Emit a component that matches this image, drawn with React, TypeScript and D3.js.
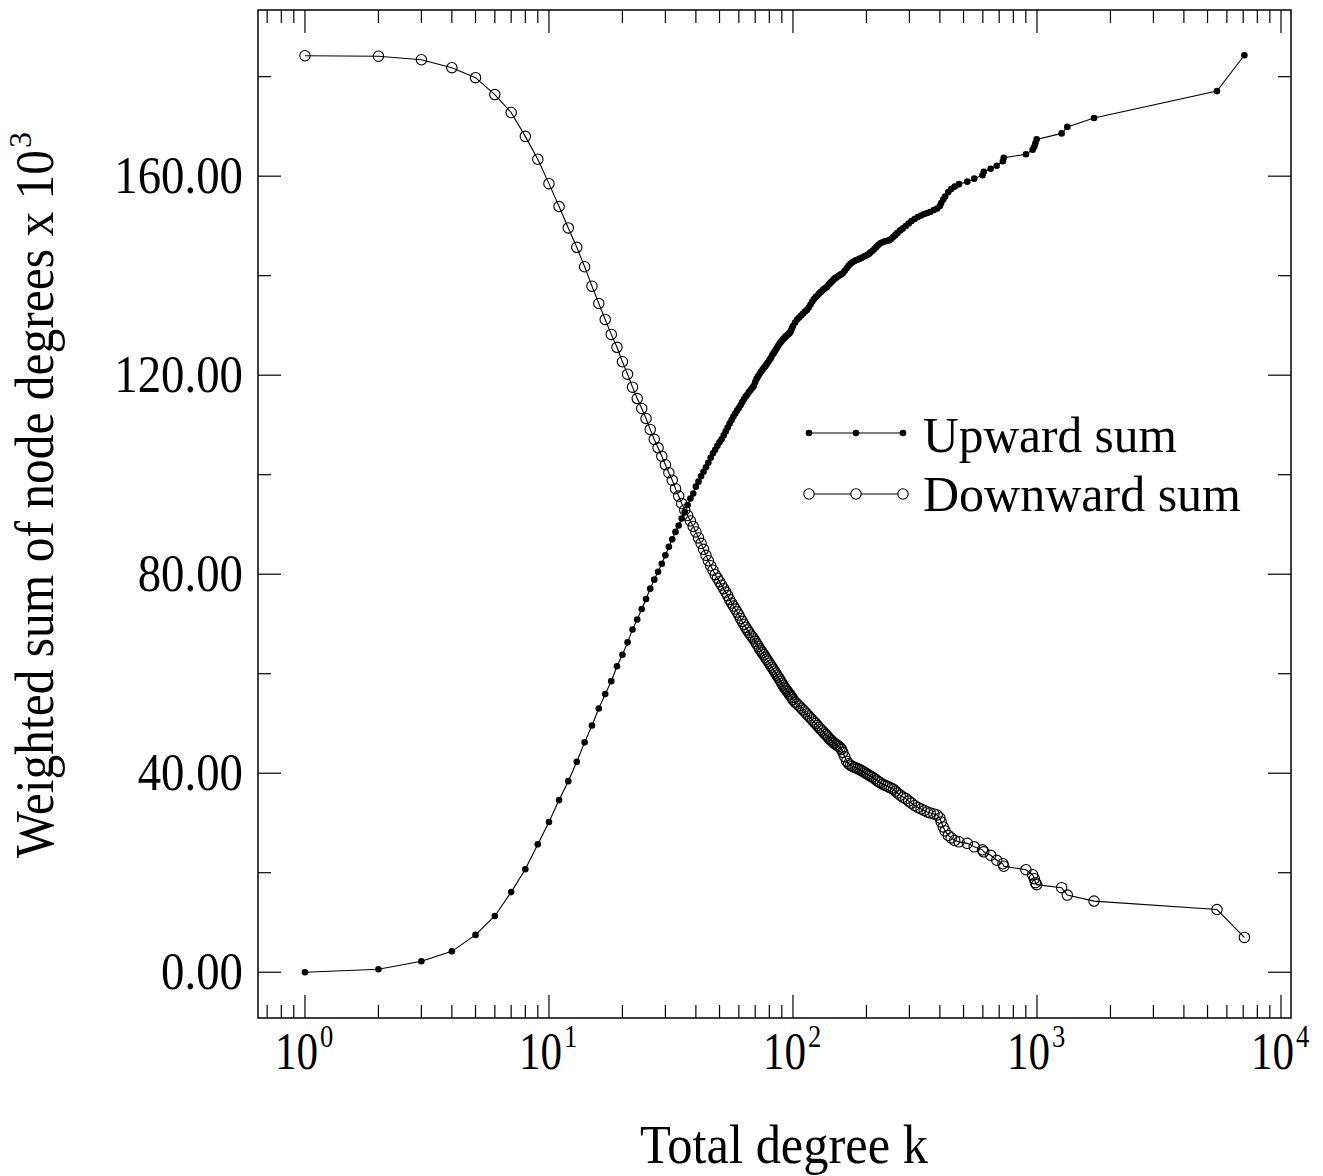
import React from "react";
import * as d3 from "d3";

const degrees = [
  1, 2, 3, 4, 5, 6, 7, 8, 9, 10,
  11, 12, 13, 14, 15, 16, 17, 18, 19, 20,
  21, 22, 23, 24, 25, 26, 27, 28, 29, 30,
  31, 32, 33, 34, 35, 36, 37, 38, 39, 40,
  41, 42, 43, 44, 45, 46, 47, 48, 49, 50,
  51, 52, 53, 54, 55, 56, 57, 58, 59, 60,
  61, 62, 63, 64, 65, 66, 67, 68, 69, 70,
  71, 72, 73, 74, 75, 76, 77, 78, 79, 80,
  81, 82, 83, 84, 85, 86, 87, 88, 89, 90,
  91, 92, 93, 94, 95, 96, 97, 98, 99, 100,
  102, 104, 106, 108, 110, 112, 114, 116, 118, 120,
  122, 124, 126, 128, 130, 132, 134, 136, 138, 140,
  142, 144, 146, 148, 150, 152, 154, 156, 158, 160,
  163, 166, 169, 172, 175, 178, 181, 184, 187, 190,
  193, 196, 199, 202, 205, 208, 212, 216, 220, 224,
  228, 233, 238, 243, 248, 253, 258, 263, 268, 275,
  282, 290, 298, 306, 315, 325, 335, 345, 355, 365,
  378, 390, 400, 405, 413, 420, 433, 445, 460, 479,
  518, 553, 598, 605, 646, 684, 725, 731, 901, 960,
  975, 985, 997, 1262, 1331, 1713, 5466, 7078,
];

const upwardSum = [
  0.0, 0.6, 2.2, 4.2, 7.5, 11.3, 16.1, 20.7, 25.7, 30.2,
  34.6, 38.4, 42.3, 46.2, 49.6, 53.0, 55.9, 58.5, 61.5, 63.8,
  66.3, 68.9, 70.9, 73.0, 75.0, 77.1, 78.9, 80.5, 82.1, 83.8,
  85.5, 87.0, 88.5, 89.8, 91.2, 92.5, 93.9, 95.2, 96.2, 97.6,
  98.6, 99.7, 100.6, 101.5, 102.4, 103.4, 104.3, 105.0, 105.8, 106.5,
  107.1, 107.9, 108.7, 109.5, 110.3, 111.0, 111.7, 112.3, 112.9, 113.4,
  114.0, 114.6, 115.2, 115.7, 116.1, 116.6, 117.0, 117.4, 117.8, 118.6,
  119.3, 119.8, 120.3, 120.7, 121.1, 121.5, 121.8, 122.2, 122.6, 123.0,
  123.4, 123.9, 124.3, 124.7, 125.1, 125.5, 125.9, 126.3, 126.6, 126.9,
  127.2, 127.4, 127.7, 127.9, 128.1, 128.3, 128.5, 128.9, 129.4, 129.9,
  130.6, 131.2, 131.6, 132.0, 132.4, 132.8, 133.1, 133.6, 134.2, 134.8,
  135.3, 135.7, 136.0, 136.4, 136.7, 137.0, 137.3, 137.5, 137.8, 138.2,
  138.5, 138.8, 139.1, 139.4, 139.6, 139.8, 140.0, 140.2, 140.3, 140.5,
  141.0, 141.5, 142.0, 142.4, 142.7, 142.9, 143.1, 143.2, 143.4, 143.5,
  143.7, 143.9, 144.0, 144.2, 144.4, 144.7, 145.0, 145.4, 145.8, 146.2,
  146.5, 146.7, 146.9, 147.0, 147.1, 147.4, 147.8, 148.2, 148.6, 149.1,
  149.5, 150.0, 150.5, 151.0, 151.4, 151.8, 152.1, 152.4, 152.6, 152.8,
  153.2, 153.5, 154.0, 154.6, 155.3, 155.9, 156.8, 157.4, 157.9, 158.4,
  158.9, 159.5, 160.2, 160.9, 161.5, 162.1, 163.0, 163.7, 164.4, 165.3,
  165.9, 166.6, 167.4, 168.6, 169.9, 171.7, 177.1, 184.3,
];

const downwardSum = [
  184.2, 184.1, 183.4, 181.8, 179.8, 176.4, 172.8, 168.0, 163.4, 158.5,
  153.9, 149.6, 145.7, 141.8, 137.9, 134.4, 131.2, 128.2, 125.6, 122.7,
  120.2, 117.6, 115.3, 113.3, 111.3, 109.1, 107.1, 105.4, 103.7, 102.0,
  100.4, 98.9, 97.2, 95.7, 94.2, 92.9, 91.8, 90.7, 89.6, 88.5,
  87.3, 86.2, 85.0, 83.8, 82.7, 81.7, 80.8, 79.9, 79.2, 78.5,
  77.8, 77.1, 76.4, 75.7, 74.9, 74.2, 73.6, 73.0, 72.4, 71.8,
  71.1, 70.5, 69.9, 69.3, 68.8, 68.3, 67.8, 67.4, 67.0, 66.5,
  66.0, 65.5, 65.0, 64.6, 64.2, 63.8, 63.3, 62.9, 62.5, 62.1,
  61.7, 61.3, 60.9, 60.5, 60.1, 59.7, 59.3, 58.9, 58.5, 58.1,
  57.7, 57.3, 57.0, 56.7, 56.4, 56.1, 55.8, 55.5, 55.2, 54.8,
  54.3, 53.9, 53.5, 53.1, 52.7, 52.3, 51.9, 51.5, 51.1, 50.7,
  50.3, 50.0, 49.6, 49.2, 48.8, 48.5, 48.1, 47.8, 47.5, 47.1,
  46.8, 46.5, 46.2, 46.0, 45.8, 45.6, 45.4, 45.1, 44.8, 44.2,
  43.3, 42.4, 41.9, 41.6, 41.4, 41.2, 41.1, 40.9, 40.8, 40.6,
  40.4, 40.2, 40.0, 39.8, 39.6, 39.4, 39.2, 38.9, 38.6, 38.3,
  38.1, 37.8, 37.6, 37.4, 37.2, 37.0, 36.8, 36.4, 36.0, 35.6,
  35.2, 34.9, 34.4, 34.0, 33.5, 33.1, 32.8, 32.5, 32.2, 32.0,
  31.8, 31.6, 31.0, 30.2, 29.2, 28.4, 27.5, 27.0, 26.5, 26.2,
  25.9, 25.2, 24.6, 24.2, 23.5, 22.5, 21.8, 21.3, 20.6, 19.6,
  18.8, 18.0, 17.6, 17.0, 15.5, 14.3, 12.6, 7.0,
];

const yMajorTicks = [0, 40, 80, 120, 160];
const yMinorTicks = [20, 60, 100, 140, 180];
const xMajorExponents = [0, 1, 2, 3, 4];
const seriesNames = ["Upward sum", "Downward sum"];

const FONT = "'Liberation Serif', 'Times New Roman', Times, serif";
const W = 1323;
const H = 1176;
const L = 258, R = 1291, T = 10, B = 1018;

export default function App() {
  const x = d3.scaleLog().domain([0.642, 10990]).range([L, R]);
  const y = d3.scaleLinear().domain([-9.2, 193.4]).range([B, T]);

  const up = degrees.map((k, i) => [k, upwardSum[i]] as [number, number]);
  const down = degrees.map((k, i) => [k, downwardSum[i]] as [number, number]);
  const line = d3
    .line<[number, number]>()
    .x((d) => x(d[0]))
    .y((d) => y(d[1]));

  const xMinor: number[] = [];
  [0.1, 1, 10, 100, 1000].forEach((dec) => {
    for (let m = 2; m <= 9; m++) {
      const v = dec * m;
      if (v >= 0.642 && v <= 10990) xMinor.push(v);
    }
  });

  const majLen = 23;
  const minLen = 13;
  const fmt = d3.format(".2f");

  return (
    <svg
      width={W}
      height={H}
      style={{ position: "absolute", left: 0, top: 0, background: "#fff" }}
      fontFamily={FONT}
    >
      <rect x={0} y={0} width={W} height={H} fill="#fff" />
      {/* ticks */}
      <g stroke="#000" strokeWidth={1.2}>
        {xMajorExponents.map((e) => {
          const px = x(Math.pow(10, e));
          return (
            <g key={"xm" + e}>
              <line x1={px} x2={px} y1={B} y2={B - majLen} />
              <line x1={px} x2={px} y1={T} y2={T + majLen} />
            </g>
          );
        })}
        {xMinor.map((v, i) => {
          const px = x(v);
          return (
            <g key={"xn" + i}>
              <line x1={px} x2={px} y1={B} y2={B - minLen} />
              <line x1={px} x2={px} y1={T} y2={T + minLen} />
            </g>
          );
        })}
        {yMajorTicks.map((v) => (
          <g key={"ym" + v}>
            <line x1={L} x2={L + majLen} y1={y(v)} y2={y(v)} />
            <line x1={R} x2={R - majLen} y1={y(v)} y2={y(v)} />
          </g>
        ))}
        {yMinorTicks.map((v) => (
          <g key={"yn" + v}>
            <line x1={L} x2={L + minLen} y1={y(v)} y2={y(v)} />
            <line x1={R} x2={R - minLen} y1={y(v)} y2={y(v)} />
          </g>
        ))}
      </g>
      <rect x={L} y={T} width={R - L} height={B - T} fill="none" stroke="#000" strokeWidth={1.5} />

      {/* y tick labels */}
      {yMajorTicks.map((v) => {
        const s = fmt(v);
        const nd = s.replace(".", "").length;
        const len = 52 * 0.9 * (0.5 * nd + 0.25);
        return (
          <text
            key={"yl" + v}
            x={243}
            y={y(v) + 17}
            fontSize={52}
            textAnchor="end"
            textLength={len}
            lengthAdjust="spacingAndGlyphs"
          >
            {s}
          </text>
        );
      })}

      {/* x tick labels: 10 with superscript exponent */}
      {xMajorExponents.map((e) => {
        const px = x(Math.pow(10, e));
        return (
          <g key={"xl" + e}>
            <g transform={`translate(${px - 30},1069) scale(0.83,1)`}>
              <text x={0} y={0} fontSize={52}>10</text>
            </g>
            <g transform={`translate(${px + 15},1047) scale(0.83,1)`}>
              <text x={0} y={0} fontSize={32}>{String(e)}</text>
            </g>
          </g>
        );
      })}

      {/* axis titles */}
      <text x={784} y={1163} fontSize={54} textAnchor="middle" textLength={288} lengthAdjust="spacingAndGlyphs">
        Total degree k
      </text>
      <g transform="translate(53,858) rotate(-90)">
        <text x={0} y={0} fontSize={54}>
          <tspan textLength={708} lengthAdjust="spacingAndGlyphs">Weighted sum of node degrees x 10</tspan>
          <tspan dx={2} dy={-22} fontSize={32}>3</tspan>
        </text>
      </g>

      {/* downward series */}
      <path d={line(down) || ""} fill="none" stroke="#000" strokeWidth={1.1} />
      {down.map((d, i) => (
        <circle key={"d" + i} cx={x(d[0])} cy={y(d[1])} r={5.2} fill="none" stroke="#000" strokeWidth={1.1} />
      ))}
      {/* upward series */}
      <path d={line(up) || ""} fill="none" stroke="#000" strokeWidth={1.1} />
      {up.map((d, i) => (
        <circle key={"u" + i} cx={x(d[0])} cy={y(d[1])} r={3.3} fill="#000" />
      ))}

      {/* legend */}
      <g>
        <line x1={809} x2={903} y1={433} y2={433} stroke="#000" strokeWidth={1.1} />
        {[809, 856, 903].map((cx) => (
          <circle key={"lu" + cx} cx={cx} cy={433} r={3.3} fill="#000" />
        ))}
        <text x={923} y={452} fontSize={50} textLength={254} lengthAdjust="spacingAndGlyphs">
          {seriesNames[0]}
        </text>
        <line x1={809} x2={903} y1={494} y2={494} stroke="#000" strokeWidth={1.1} />
        {[809, 856, 903].map((cx) => (
          <circle key={"ld" + cx} cx={cx} cy={494} r={5.2} fill="#fff" stroke="#000" strokeWidth={1.1} />
        ))}
        <text x={923} y={511} fontSize={50} textLength={318} lengthAdjust="spacingAndGlyphs">
          {seriesNames[1]}
        </text>
      </g>
    </svg>
  );
}
